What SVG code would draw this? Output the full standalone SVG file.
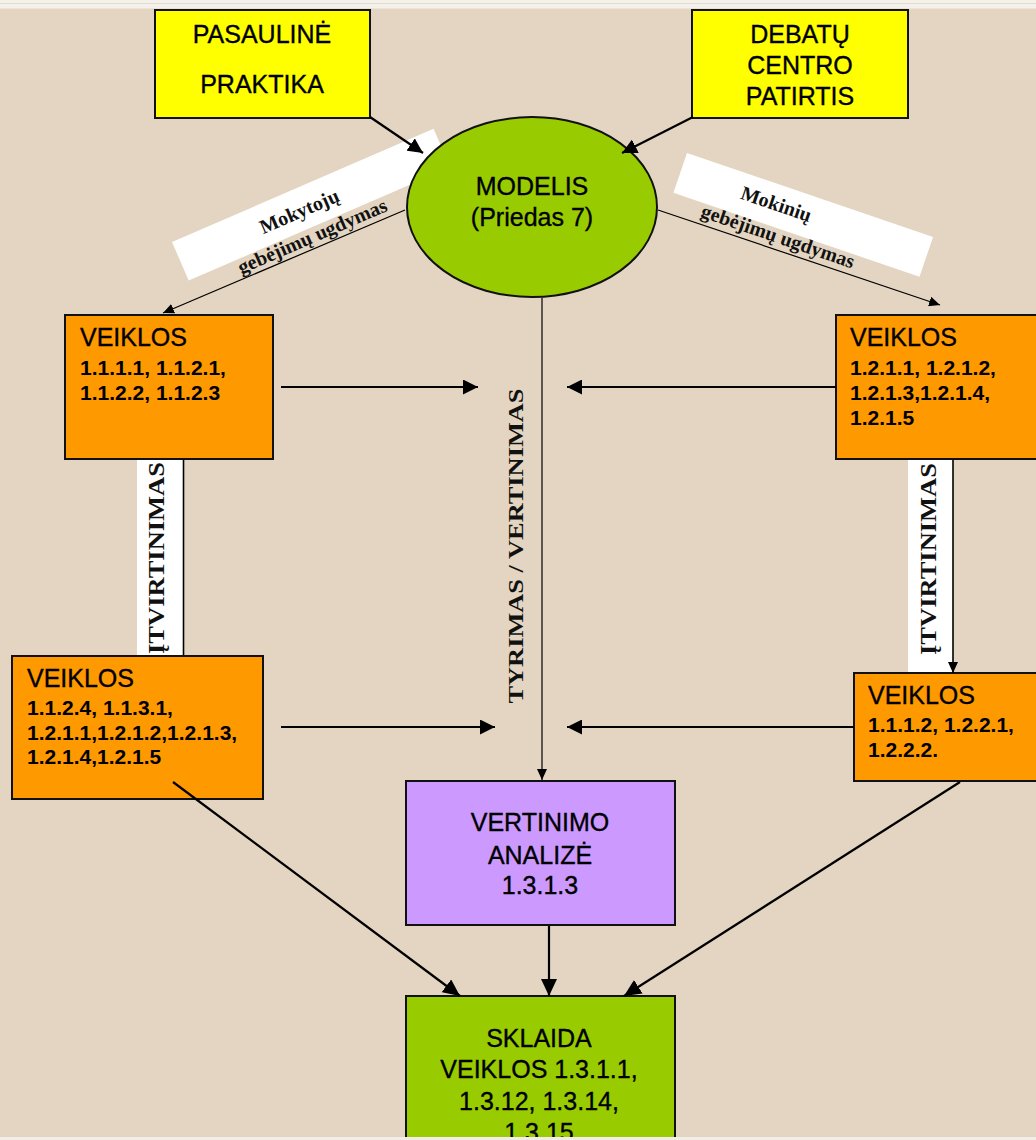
<svg xmlns="http://www.w3.org/2000/svg" width="1036" height="1140" viewBox="0 0 1036 1140">
<defs>
<style>
.box{stroke:#111;stroke-width:2}
.t{font-family:"Liberation Sans",Arial,sans-serif;font-size:25px;fill:#000;stroke:#000;stroke-width:0.35}
.tc{text-anchor:middle}
.n{font-family:"Liberation Sans",Arial,sans-serif;font-size:21px;font-weight:bold;fill:#000}
.s{font-family:"Liberation Serif","Times New Roman",serif;font-weight:bold;fill:#111}
.c2{stroke:#000;stroke-width:2.2;fill:none}
.c1{stroke:#000;stroke-width:1.2;fill:none}
.band{fill:#fff}
</style>
<marker id="big" markerUnits="userSpaceOnUse" markerWidth="18" markerHeight="16" refX="17" refY="8" orient="auto"><path d="M0,0 L17,8 L0,16 z" fill="#000"/></marker>
<marker id="mid" markerUnits="userSpaceOnUse" markerWidth="16" markerHeight="15" refX="15" refY="7.5" orient="auto"><path d="M0,0 L15,7.5 L0,15 z" fill="#000"/></marker>
<marker id="sm" markerUnits="userSpaceOnUse" markerWidth="12" markerHeight="10" refX="11" refY="5" orient="auto"><path d="M0,0 L11,5 L0,10 z" fill="#000"/></marker>
</defs>
<rect x="0" y="0" width="1036" height="1140" fill="#e3d5c1"/>
<rect x="0" y="0" width="1036" height="9" fill="#f4f0ea"/>
<line x1="0" y1="3.5" x2="1036" y2="3.5" stroke="#e2dbd0" stroke-width="1"/>
<line x1="0" y1="8.5" x2="1036" y2="8.5" stroke="#ebe3d7" stroke-width="1"/>

<g id="bands">
<g transform="translate(172,242) rotate(-23.4)"><rect class="band" x="0" y="0" width="285" height="42"/></g>
<g transform="translate(687,153) rotate(18.85)"><rect class="band" x="0" y="0" width="260" height="42"/></g>
<rect class="band" x="137" y="459" width="46" height="197"/>
<rect class="band" x="908" y="459" width="45" height="214"/>
</g>

<g id="n-pasauline">
<rect class="box" x="155" y="10" width="215" height="108" fill="#ffff00"/>
<text class="t tc" x="262" y="43">PASAULINĖ</text>
<text class="t tc" x="262" y="93">PRAKTIKA</text>
</g>
<g id="n-debatu">
<rect class="box" x="692" y="10" width="216" height="108" fill="#ffff00"/>
<text class="t tc" x="800" y="43">DEBATŲ</text>
<text class="t tc" x="800" y="74">CENTRO</text>
<text class="t tc" x="800" y="105">PATIRTIS</text>
</g>
<g id="n-modelis">
<ellipse class="box" cx="532" cy="207" rx="125" ry="90" fill="#99cc00"/>
<text class="t tc" x="532" y="195">MODELIS</text>
<text class="t tc" x="532" y="226">(Priedas 7)</text>
</g>
<g id="n-veiklos1">
<rect class="box" x="65" y="315" width="208" height="144" fill="#ff9900"/>
<text class="t" x="80" y="346">VEIKLOS</text>
<text class="n" x="80" y="375">1.1.1.1, 1.1.2.1,</text>
<text class="n" x="80" y="400">1.1.2.2, 1.1.2.3</text>
</g>
<g id="n-veiklos2">
<rect class="box" x="836" y="315" width="210" height="144" fill="#ff9900"/>
<text class="t" x="850" y="346">VEIKLOS</text>
<text class="n" x="850" y="375">1.2.1.1, 1.2.1.2,</text>
<text class="n" x="850" y="400">1.2.1.3,1.2.1.4,</text>
<text class="n" x="850" y="425">1.2.1.5</text>
</g>
<g id="n-veiklos3">
<rect class="box" x="12" y="656" width="251" height="143" fill="#ff9900"/>
<text class="t" x="27" y="687">VEIKLOS</text>
<text class="n" x="27" y="715">1.1.2.4, 1.1.3.1,</text>
<text class="n" x="27" y="740">1.2.1.1,1.2.1.2,1.2.1.3,</text>
<text class="n" x="27" y="764">1.2.1.4,1.2.1.5</text>
</g>
<g id="n-veiklos4">
<rect class="box" x="854" y="673" width="192" height="108" fill="#ff9900"/>
<text class="t" x="868" y="704">VEIKLOS</text>
<text class="n" x="868" y="732">1.1.1.2, 1.2.2.1,</text>
<text class="n" x="868" y="757">1.2.2.2.</text>
</g>
<g id="n-vertinimo">
<rect class="box" x="406" y="781" width="269" height="144" fill="#cc99ff"/>
<text class="t tc" x="540" y="831">VERTINIMO</text>
<text class="t tc" x="540" y="864">ANALIZĖ</text>
<text class="t tc" x="540" y="894">1.3.1.3</text>
</g>
<g id="n-sklaida">
<rect class="box" x="406" y="996" width="269" height="143" fill="#99cc00"/>
<text class="t tc" x="539" y="1047">SKLAIDA</text>
<text class="t tc" x="539" y="1078">VEIKLOS 1.3.1.1,</text>
<text class="t tc" x="539" y="1110">1.3.12, 1.3.14,</text>
<text class="t tc" x="539" y="1141">1.3.15</text>
</g>

<g id="connectors">
<line class="c2" x1="370" y1="117" x2="423" y2="153" marker-end="url(#mid)"/>
<line class="c2" x1="693" y1="117" x2="622" y2="153" marker-end="url(#mid)"/>
<line class="c1" x1="405" y1="210" x2="163" y2="313" marker-end="url(#sm)"/>
<line class="c1" x1="658" y1="210" x2="940" y2="305" marker-end="url(#sm)"/>
<line class="c1" x1="542" y1="298" x2="542" y2="780" marker-end="url(#sm)"/>
<line class="c2" x1="281" y1="387" x2="478" y2="387" marker-end="url(#mid)"/>
<line class="c2" x1="281" y1="727" x2="495" y2="727" marker-end="url(#mid)"/>
<line class="c2" x1="836" y1="387" x2="567" y2="387" marker-end="url(#mid)"/>
<line class="c2" x1="854" y1="727" x2="567" y2="727" marker-end="url(#mid)"/>
<line class="c1" x1="183.5" y1="460" x2="183.5" y2="655" style="stroke-width:1.6"/>
<line class="c1" x1="953" y1="460" x2="953" y2="673" style="stroke-width:1.6" marker-end="url(#sm)"/>
<line class="c2" x1="173" y1="782" x2="460" y2="996" marker-end="url(#big)"/>
<line class="c2" x1="549" y1="926" x2="549" y2="996" marker-end="url(#big)"/>
<line class="c2" x1="960" y1="782" x2="624" y2="996" marker-end="url(#big)"/>
</g>

<g id="labels">
<g transform="translate(172,242) rotate(-23.4)">
<text class="s tc" x="129" y="29" font-size="20">Mokytojų</text>
<text class="s tc" x="131" y="57" font-size="20">gebėjimų ugdymas</text>
</g>
<g transform="translate(687,153) rotate(18.85)">
<text class="s tc" x="101" y="26" font-size="20">Mokinių</text>
<text class="s tc" x="113" y="56" font-size="20">gebėjimų ugdymas</text>
</g>
<text class="s tc" transform="translate(164,558) rotate(-90)" font-size="23" textLength="192" lengthAdjust="spacingAndGlyphs">ĮTVIRTINIMAS</text>
<text class="s tc" transform="translate(936,559) rotate(-90)" font-size="23" textLength="192" lengthAdjust="spacingAndGlyphs">ĮTVIRTINIMAS</text>
<text class="s tc" transform="translate(523,546) rotate(-90)" font-size="22" textLength="315" lengthAdjust="spacingAndGlyphs">TYRIMAS / VERTINIMAS</text>
</g>
<rect x="0" y="1137" width="1036" height="3" fill="#f2ede6"/>
</svg>
